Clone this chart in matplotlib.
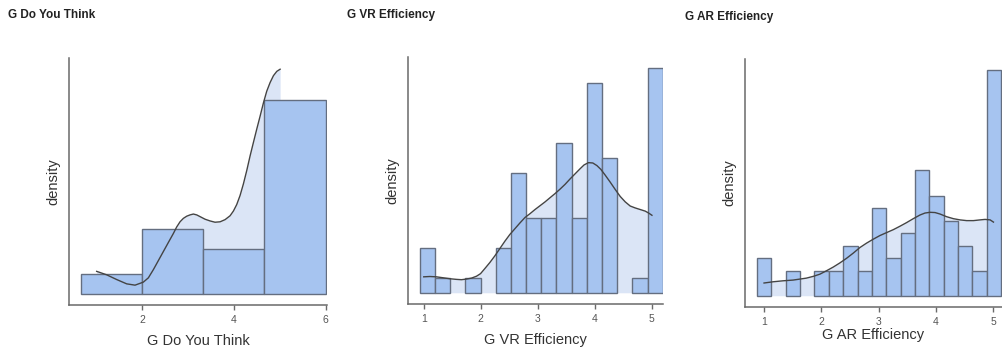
import numpy as np
import matplotlib
matplotlib.use("Agg")
import matplotlib.pyplot as plt

plt.rcParams['font.family'] = ['Liberation Sans', 'DejaVu Sans']

# histogram counts, bin start and bin width for each variable
think_counts = [3, 10, 7, 30]
think_bin_start = 0.667
think_bin_width = 1.333

vr_counts = [3, 1, 0, 1, 0, 3, 8, 5, 5, 10, 5, 14, 9, 0, 1, 15]
vr_bin_start = 0.93
vr_bin_width = 0.2663

ar_counts = [3, 0, 2, 0, 2, 2, 4, 2, 7, 3, 5, 10, 8, 6, 4, 2, 18]
ar_bin_start = 0.878
ar_bin_width = 0.2504

# density curves
think_kde_x = [1.004, 1.222, 1.441, 1.659, 1.841, 2.022, 2.132, 2.241, 2.350, 2.459, 2.568,
               2.678, 2.750, 2.823, 2.896, 2.969, 3.041, 3.114, 3.187, 3.260, 3.369, 3.478,
               3.587, 3.697, 3.806, 3.915, 3.988, 4.060, 4.133, 4.206, 4.279, 4.352, 4.424,
               4.497, 4.570, 4.643, 4.715, 4.788, 4.861, 4.934, 5.007]
think_kde_y = [0.052, 0.044, 0.033, 0.023, 0.020, 0.027, 0.037, 0.056, 0.077, 0.098, 0.119,
               0.140, 0.155, 0.167, 0.175, 0.180, 0.183, 0.185, 0.183, 0.179, 0.173, 0.169,
               0.166, 0.167, 0.172, 0.181, 0.192, 0.207, 0.228, 0.255, 0.286, 0.320, 0.351,
               0.382, 0.412, 0.443, 0.470, 0.490, 0.506, 0.516, 0.521]

vr_kde_x = [1.000, 1.105, 1.223, 1.340, 1.457, 1.574, 1.662, 1.750, 1.838, 1.926, 1.996,
            2.072, 2.160, 2.248, 2.336, 2.424, 2.511, 2.599, 2.687, 2.775, 2.863, 2.951,
            3.039, 3.127, 3.214, 3.302, 3.390, 3.478, 3.566, 3.654, 3.742, 3.812, 3.888,
            3.964, 4.035, 4.105, 4.181, 4.269, 4.357, 4.445, 4.533, 4.620, 4.708, 4.796,
            4.884, 4.943, 5.001]
vr_kde_y = [0.050, 0.051, 0.050, 0.047, 0.044, 0.042, 0.041, 0.043, 0.046, 0.052, 0.060,
            0.076, 0.095, 0.116, 0.139, 0.162, 0.183, 0.201, 0.219, 0.236, 0.248, 0.261,
            0.273, 0.285, 0.298, 0.311, 0.325, 0.340, 0.357, 0.373, 0.389, 0.401, 0.408,
            0.407, 0.399, 0.387, 0.369, 0.347, 0.324, 0.302, 0.285, 0.272, 0.266, 0.261,
            0.256, 0.250, 0.243]

ar_kde_x = [1.000, 1.158, 1.332, 1.507, 1.624, 1.740, 1.856, 1.973, 2.089, 2.206, 2.322,
            2.439, 2.555, 2.672, 2.788, 2.904, 3.021, 3.137, 3.254, 3.370, 3.487, 3.603,
            3.720, 3.807, 3.894, 3.982, 4.069, 4.185, 4.302, 4.418, 4.535, 4.651, 4.768,
            4.855, 4.943, 5.001]
ar_kde_y = [0.052, 0.057, 0.061, 0.064, 0.068, 0.072, 0.079, 0.088, 0.102, 0.117, 0.134,
            0.153, 0.174, 0.197, 0.215, 0.231, 0.246, 0.258, 0.270, 0.284, 0.299, 0.315,
            0.330, 0.338, 0.341, 0.340, 0.334, 0.323, 0.315, 0.310, 0.307, 0.307, 0.310,
            0.312, 0.310, 0.301]

BAR = '#a6c4f0'
LIGHT = '#dbe5f6'
EDGE = '#646e80'
TXT = '#333333'


def draw_panel(ax, counts, start, width, kde_x, kde_y, xlabel, xlim, xticks, xpad):
    counts = np.array(counts, dtype=float)
    dens = counts / (counts.sum() * width)
    lefts = start + width * np.arange(len(counts))
    ax.fill_between(kde_x, kde_y, 0, color=LIGHT, lw=0, zorder=1)
    ax.bar(lefts[dens > 0], dens[dens > 0], width=width, align='edge',
           color=BAR, edgecolor=EDGE, linewidth=1.0, zorder=2)
    ax.plot(kde_x, kde_y, color='#444444', lw=1.0, zorder=3)
    top = max(dens.max(), max(kde_y))
    ax.set_ylim(-0.05 * top, 1.05 * top)
    ax.set_xlim(*xlim)
    ax.set_xticks(xticks)
    ax.set_yticks([])
    for s in ['top', 'right']:
        ax.spines[s].set_visible(False)
    for s in ['left', 'bottom']:
        ax.spines[s].set_color('#6a6a6a')
        ax.spines[s].set_linewidth(1.1)
    ax.tick_params(axis='x', colors='#6a6a6a', labelsize=7.5, length=3.5, width=1, labelcolor='#555555')
    ax.set_xlabel(xlabel, fontsize=10.5, color=TXT, labelpad=xpad)
    ax.set_ylabel('density', fontsize=10.5, color=TXT, labelpad=6)


W, H = 1002, 351
fig = plt.figure(figsize=(W / 100, H / 100), dpi=100)


def add_axes(l, r, t, b):
    return fig.add_axes([l / W, 1 - b / H, (r - l) / W, (b - t) / H])


ax1 = add_axes(69, 327, 58, 305)
ax2 = add_axes(408, 663, 57, 304)
ax3 = add_axes(745, 1002, 59, 307)

draw_panel(ax1, think_counts, think_bin_start, think_bin_width, think_kde_x, think_kde_y,
           'G Do You Think', (0.40, 6.03), [2, 4, 6], 7)
draw_panel(ax2, vr_counts, vr_bin_start, vr_bin_width, vr_kde_x, vr_kde_y,
           'G VR Efficiency', (0.724, 5.195), [1, 2, 3, 4, 5], 7)
draw_panel(ax3, ar_counts, ar_bin_start, ar_bin_width, ar_kde_x, ar_kde_y,
           'G AR Efficiency', (0.668, 5.15), [1, 2, 3, 4, 5], 1)

fig.text(8 / W, 1 - 15 / H, 'G Do You Think', fontsize=8.5, fontweight='bold', color='#222222', va='center')
fig.text(347 / W, 1 - 15 / H, 'G VR Efficiency', fontsize=8.5, fontweight='bold', color='#222222', va='center')
fig.text(685 / W, 1 - 17 / H, 'G AR Efficiency', fontsize=8.5, fontweight='bold', color='#222222', va='center')

fig.savefig('out.png', dpi=100)
